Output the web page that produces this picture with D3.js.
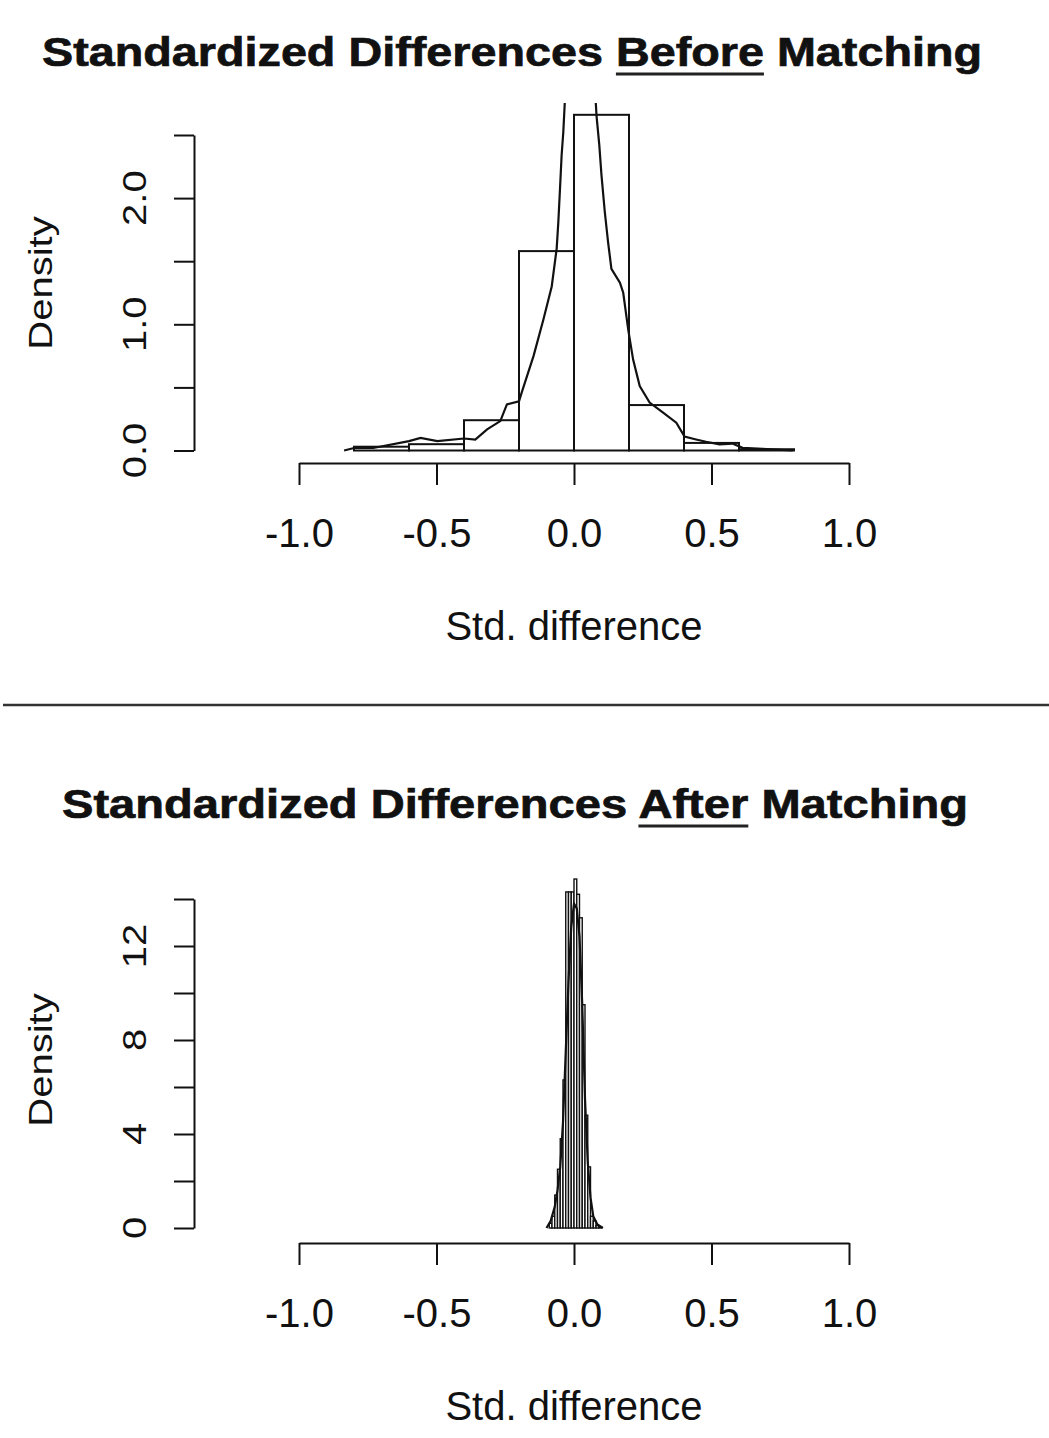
<!DOCTYPE html>
<html>
<head>
<meta charset="utf-8">
<script src="https://cdn.jsdelivr.net/npm/d3@7"></script>
<style>
  body { margin: 0; background: #fff; }
  svg text { font-family: "Liberation Sans", Arial, Helvetica, sans-serif; fill: #111; }
</style>
</head>
<body>
<div id="chart"></div>
<script>
var w = 1049,
  h = 1438;

// x axis shared by both panels
var xTicks = [-1, -0.5, 0, 0.5, 1];

// before matching: histogram (bin edges + density) and density curve
var beforeBreaks = [-0.8, -0.6, -0.4, -0.2, 0, 0.2, 0.4, 0.6, 0.8];
var beforeDensity = [0.03, 0.05, 0.24, 1.58, 2.66, 0.36, 0.06, 0.01];
var beforeCurveX = [-0.836, -0.8, -0.73, -0.6, -0.558, -0.497, -0.4, -0.359, -0.316, -0.268,
  -0.244, -0.2, -0.19, -0.147, -0.111, -0.081, -0.063, -0.057, -0.051, -0.045, -0.039,
  -0.033, -0.02, 0.0, 0.03, 0.06, 0.078, 0.082, 0.092, 0.1, 0.112, 0.124, 0.136, 0.167,
  0.179, 0.197, 0.215, 0.239, 0.275, 0.324, 0.372, 0.402, 0.444, 0.48, 0.529, 0.576,
  0.613, 0.686, 0.795];
var beforeCurveY = [0, 0.02, 0.02, 0.074, 0.1, 0.074, 0.095, 0.087, 0.167, 0.233,
  0.365, 0.39, 0.46, 0.75, 1.04, 1.3, 1.6, 1.81, 2.07, 2.34, 2.52,
  2.78, 3.2, 3.55, 3.6, 3.3, 2.8, 2.65, 2.42, 2.18, 1.89, 1.65, 1.44, 1.33,
  1.25, 0.96, 0.72, 0.51, 0.38, 0.3, 0.22, 0.11, 0.087, 0.069, 0.048, 0.055,
  0.021, 0.013, 0];
var beforeYTicks = [0, 0.5, 1, 1.5, 2, 2.5];
var beforeYLabels = [0, 1, 2];

// after matching
var afterBreaks = [-0.09, -0.08, -0.07, -0.06, -0.05, -0.04, -0.03, -0.02, -0.01, 0,
  0.01, 0.02, 0.03, 0.04, 0.05, 0.06, 0.07, 0.08, 0.09, 0.1];
var afterDensity = [0.2, 0.5, 1.4, 2.5, 3.8, 6.3, 14.3, 14.3, 14.3, 14.85,
  14.2, 13.2, 9.5, 4.8, 2.6, 0.5, 0.3, 0.1, 0.05];
var afterCurveX = [-0.1, -0.085, -0.07, -0.06, -0.05, -0.04, -0.03, -0.02, -0.01, 0,
  0.01, 0.02, 0.03, 0.04, 0.05, 0.06, 0.07, 0.085, 0.105];
var afterCurveY = [0, 0.3, 0.9, 1.6, 2.6, 4.5, 7.5, 10.5, 12.8, 13.8,
  13.6, 12.4, 9.5, 5.5, 2.8, 1.3, 0.5, 0.15, 0];
var afterYTicks = [0, 2, 4, 6, 8, 10, 12, 14];
var afterYLabels = [0, 4, 8, 12];

var svg = d3
  .select("#chart")
  .append("svg")
  .attr("width", w)
  .attr("height", h)
  .style("background", "#fff");

var panels = [
  {
    id: "before",
    title: "Standardized Differences Before Matching",
    under: [25, 30],
    titleX: 42, titleY: 66, titleLen: 940,
    breaks: beforeBreaks, dens: beforeDensity,
    cx: beforeCurveX, cy: beforeCurveY,
    yTicks: beforeYTicks, yLabels: beforeYLabels, yFmt: (d) => d.toFixed(1),
    yDomain: [0, 2.5], yRange: [450.5, 135],
    clipTop: 103, axisY: 463, yLabelY: 283, xLabelY: 640
  },
  {
    id: "after",
    title: "Standardized Differences After Matching",
    under: [25, 29],
    titleX: 62, titleY: 818, titleLen: 906,
    breaks: afterBreaks, dens: afterDensity,
    cx: afterCurveX, cy: afterCurveY,
    yTicks: afterYTicks, yLabels: afterYLabels, yFmt: (d) => String(d),
    yDomain: [0, 14], yRange: [1228, 899],
    clipTop: 860, axisY: 1243, yLabelY: 1060, xLabelY: 1420
  }
];

var x = d3.scaleLinear().domain([-1, 1]).range([299, 849]);

panels.forEach(function (p) {
  var y = d3.scaleLinear().domain(p.yDomain).range(p.yRange);
  var g = svg.append("g").attr("id", p.id);

  // title with underlined word
  var title = g
    .append("text")
    .attr("x", p.titleX)
    .attr("y", p.titleY)
    .attr("font-size", 40)
    .attr("font-weight", "bold")
    .attr("stroke", "#111")
    .attr("stroke-width", 0.7)
    .attr("textLength", p.titleLen)
    .attr("lengthAdjust", "spacingAndGlyphs")
    .text(p.title);
  var node = title.node();
  var u0 = node.getStartPositionOfChar(p.under[0]).x;
  var u1 = node.getEndPositionOfChar(p.under[1]).x;
  g.append("line")
    .attr("x1", u0).attr("x2", u1)
    .attr("y1", p.titleY + 8).attr("y2", p.titleY + 8)
    .attr("stroke", "#222").attr("stroke-width", 3);

  g.append("clipPath")
    .attr("id", "clip-" + p.id)
    .append("rect")
    .attr("x", 195).attr("y", p.clipTop)
    .attr("width", 800).attr("height", p.yRange[0] - p.clipTop + 20);

  var plot = g.append("g").attr("clip-path", "url(#clip-" + p.id + ")");

  var bins = p.dens.map((d, i) => ({ x0: p.breaks[i], x1: p.breaks[i + 1], d: d }));
  plot
    .selectAll("rect")
    .data(bins)
    .enter()
    .append("rect")
    .attr("x", (d) => x(d.x0))
    .attr("width", (d) => x(d.x1) - x(d.x0))
    .attr("y", (d) => y(d.d))
    .attr("height", (d) => y(0) - y(d.d))
    .attr("fill", "#fff")
    .attr("stroke", "#111")
    .attr("stroke-width", p.id == "after" ? 1.4 : 2);

  var line = d3
    .line()
    .x((d) => x(d[0]))
    .y((d) => y(d[1]));
  plot
    .append("path")
    .datum(p.cx.map((v, i) => [v, p.cy[i]]))
    .attr("d", line)
    .attr("fill", "none")
    .attr("stroke", "#111")
    .attr("stroke-width", 2.2);

  // x axis
  var xa = g
    .append("g")
    .attr("transform", `translate(0,${p.axisY})`)
    .call(
      d3.axisBottom(x)
        .tickValues(xTicks)
        .tickSize(22)
        .tickSizeOuter(0)
        .tickPadding(34)
        .tickFormat((d) => d.toFixed(1))
    );
  xa.selectAll("path, line").attr("stroke", "#111").attr("stroke-width", 2);
  xa.selectAll("text").attr("font-size", 40).attr("font-family", null).attr("fill", "#222");

  g.append("text")
    .attr("x", x(0))
    .attr("y", p.xLabelY)
    .attr("text-anchor", "middle")
    .attr("font-size", 40)
    .attr("fill", "#222")
    .text("Std. difference");

  // y axis
  var ya = g
    .append("g")
    .attr("transform", "translate(194,0)")
    .call(d3.axisLeft(y).tickValues(p.yTicks).tickSize(20).tickSizeOuter(0).tickFormat(""));
  ya.selectAll("path, line").attr("stroke", "#111").attr("stroke-width", 2);

  g.selectAll(".ylab")
    .data(p.yLabels)
    .enter()
    .append("text")
    .attr("transform", (d) => `translate(146,${y(d)}) rotate(-90) scale(1,0.85)`)
    .attr("text-anchor", "middle")
    .attr("font-size", 40)
    .attr("fill", "#222")
    .text(p.yFmt);

  g.append("text")
    .attr("transform", `translate(52,${p.yLabelY}) rotate(-90) scale(1,0.85)`)
    .attr("text-anchor", "middle")
    .attr("font-size", 40)
    .attr("fill", "#222")
    .text("Density");
});

// separator between the two panels
svg.append("line")
  .attr("x1", 3).attr("x2", w)
  .attr("y1", 705).attr("y2", 705)
  .attr("stroke", "#333")
  .attr("stroke-width", 2.5);
</script>
</body>
</html>
